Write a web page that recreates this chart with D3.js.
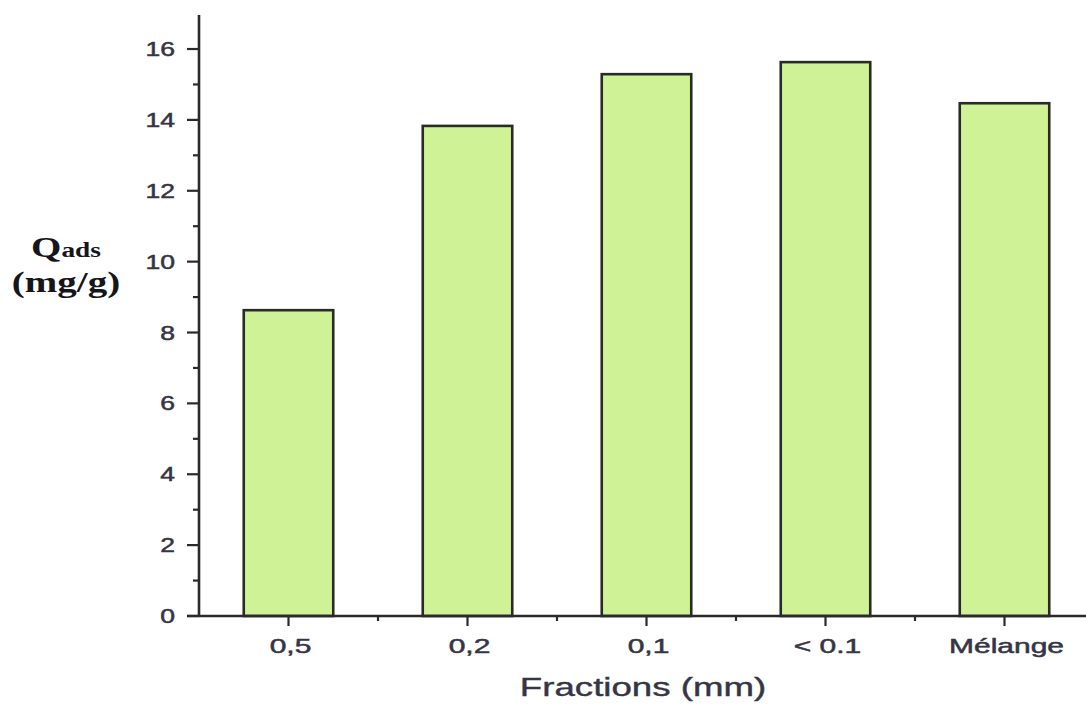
<!DOCTYPE html>
<html>
<head>
<meta charset="utf-8">
<script src="https://cdn.jsdelivr.net/npm/d3@7"></script>
<style>
  html, body { margin: 0; padding: 0; background: #fff; }
  svg { display: block; }
</style>
</head>
<body>
<svg id="chart" width="1086" height="706"></svg>
<script>
// Adsorbed quantity per particle-size fraction
const categories = ["0,5", "0,2", "0,1", "< 0.1", "Mélange"];
const qads = [8.63, 13.83, 15.29, 15.63, 14.47];
const yTicks = [0, 2, 4, 6, 8, 10, 12, 14, 16];

const svg = d3.select("#chart");
const x0 = 199, x1 = 1094, yBottom = 616, yTop = 15;

const x = d3.scaleBand().domain(categories).range([x0, x1]).paddingInner(0.5).paddingOuter(0.25);
const xc = d3.scaleBand().domain(categories).range([x0, x1]);
const y = d3.scaleLinear().domain([0, 16.96]).range([yBottom, yTop]);

const ink = "#2a2a2a";
const labelColor = "#353545";
const sans = "Liberation Sans, Arial, sans-serif";
const serif = "Liberation Serif, Times New Roman, serif";

// Text drawn with a wide horizontal stretch
function wideText(g, px, py, sx, str, opts) {
  const t = g.append("text")
    .attr("transform", `translate(${px},${py}) scale(${sx},1)`)
    .attr("text-anchor", opts.anchor || "middle")
    .attr("font-family", opts.family || sans)
    .attr("font-size", opts.size)
    .attr("font-weight", opts.weight || "normal")
    .attr("fill", opts.fill || labelColor)
    .attr("stroke", opts.stroke || "none")
    .attr("stroke-width", opts.strokeWidth || 0);
  if (str !== null) t.text(str);
  return t;
}

// Bars
svg.append("g").selectAll("rect").data(qads).join("rect")
  .attr("x", (d, i) => x(categories[i]))
  .attr("width", x.bandwidth())
  .attr("y", d => y(d))
  .attr("height", d => yBottom - y(d))
  .attr("fill", "#d0f296")
  .attr("stroke", ink)
  .attr("stroke-width", 2.6);

// Y axis
const yAxis = svg.append("g").attr("transform", `translate(${x0},0)`);
yAxis.append("line").attr("x1", 0).attr("x2", 0).attr("y1", yTop).attr("y2", yBottom + 1)
  .attr("stroke", ink).attr("stroke-width", 2.6);
yAxis.selectAll(".maj").data(yTicks).join("line")
  .attr("x1", -12).attr("x2", 0).attr("y1", d => y(d)).attr("y2", d => y(d))
  .attr("stroke", ink).attr("stroke-width", 2.2);
yAxis.selectAll(".min").data(yTicks.slice(0, -1).map(d => d + 1)).join("line")
  .attr("x1", -6).attr("x2", 0).attr("y1", d => y(d)).attr("y2", d => y(d))
  .attr("stroke", ink).attr("stroke-width", 2.2);
const yLabels = svg.append("g");
yTicks.forEach(d => {
  wideText(yLabels, 175, y(d) + 7, 1.36, String(d),
    { anchor: "end", size: 19.5, stroke: labelColor, strokeWidth: 0.5 });
});

// X axis
const xAxis = svg.append("g").attr("transform", `translate(0,${yBottom})`);
xAxis.append("line").attr("x1", x0 - 12).attr("x2", x1).attr("y1", 0).attr("y2", 0)
  .attr("stroke", ink).attr("stroke-width", 2.6);
xAxis.selectAll(".maj").data(categories).join("line")
  .attr("x1", d => xc(d) + xc.bandwidth() / 2).attr("x2", d => xc(d) + xc.bandwidth() / 2)
  .attr("y1", 0).attr("y2", 10)
  .attr("stroke", ink).attr("stroke-width", 2.2);
xAxis.selectAll(".min").data(categories.slice(1)).join("line")
  .attr("x1", d => xc(d)).attr("x2", d => xc(d))
  .attr("y1", 0).attr("y2", 5)
  .attr("stroke", ink).attr("stroke-width", 2.2);
const xLabels = svg.append("g");
categories.forEach(c => {
  wideText(xLabels, xc(c) + xc.bandwidth() / 2 + 2, 653, 1.5, c,
    { size: 20, stroke: labelColor, strokeWidth: 0.5 });
});

// Axis titles
wideText(svg, 643, 696, 1.41, "Fractions (mm)",
  { size: 26, stroke: labelColor, strokeWidth: 0.4 });

const qt = wideText(svg, 66, 257, 1.3, null,
  { family: serif, size: 30, weight: "bold", fill: "#15151a" });
qt.append("tspan").text("Q");
qt.append("tspan").attr("font-size", 21).text("ads");
wideText(svg, 66, 292, 1.3, "(mg/g)",
  { family: serif, size: 30, weight: "bold", fill: "#15151a" });
</script>
</body>
</html>
